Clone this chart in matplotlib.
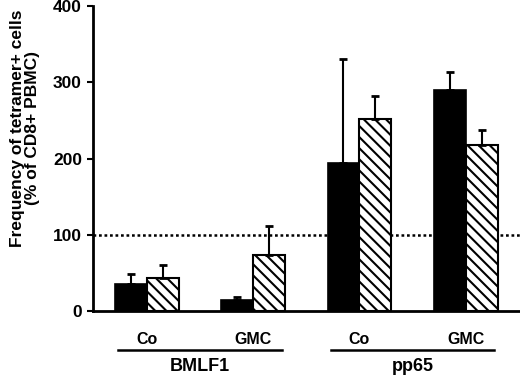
import matplotlib.pyplot as plt
import numpy as np

plt.rcParams['font.family'] = ['Liberation Sans', 'DejaVu Sans']
plt.rcParams['font.weight'] = 'bold'
plt.rcParams['axes.labelweight'] = 'bold'
plt.rcParams['hatch.linewidth'] = 1.5

conditions = ["Co", "GMC", "Co", "GMC"]
groups = ["BMLF1", "pp65"]
solid_vals = [35, 15, 194, 290]
solid_err = [13, 3, 136, 23]
hatched_vals = [44, 74, 252, 218]
hatched_err = [17, 37, 30, 20]
threshold = 100

x = np.arange(len(conditions))
w = 0.3

fig = plt.figure(figsize=(5.2, 3.78), dpi=100)
ax = fig.add_axes([0.179, 0.177, 0.821, 0.807])

ax.bar(x - w / 2, solid_vals, w, color="black", edgecolor="black", linewidth=1.2,
       yerr=[np.zeros(4), solid_err], error_kw=dict(ecolor="black", elinewidth=1.5, capsize=3, capthick=2))
ax.bar(x + w / 2, hatched_vals, w, color="white", edgecolor="black", linewidth=1.5, hatch="\\\\\\",
       yerr=[np.zeros(4), hatched_err], error_kw=dict(ecolor="black", elinewidth=1.5, capsize=3, capthick=2))

ax.axhline(threshold, color="black", linestyle=(0, (1.1, 1.1)), linewidth=1.8, zorder=0)

ax.set_xlim(-0.505, 3.51)
ax.set_ylim(0, 400)
ax.set_yticks([0, 100, 200, 300, 400])
ax.set_xticks(x)
ax.set_xticklabels(conditions, fontsize=11.5)
ax.tick_params(axis="x", length=0, pad=15)
ax.tick_params(axis="y", labelsize=12.5, width=1.5, length=4, pad=4)
ax.spines["top"].set_visible(False)
ax.spines["right"].set_visible(False)
ax.spines["left"].set_linewidth(2)
ax.spines["bottom"].set_linewidth(2)

ax.set_ylabel("Frequency of tetramer+ cells\n(% of CD8+ PBMC)", fontsize=12.5, linespacing=1.0)
ax.yaxis.set_label_coords(-0.124, 0.6)

# group underline and labels
for i, g in enumerate(groups):
    x0, x1 = 2 * i - 0.27, 2 * i + 1.27
    ax.plot([x0, x1], [-0.128, -0.128], transform=ax.get_xaxis_transform(), color="black",
            linewidth=1.8, clip_on=False)
    ax.text((x0 + x1) / 2, -0.155, g, transform=ax.get_xaxis_transform(), ha="center", va="top",
            fontsize=13)

fig.savefig("out.png", dpi=100)
